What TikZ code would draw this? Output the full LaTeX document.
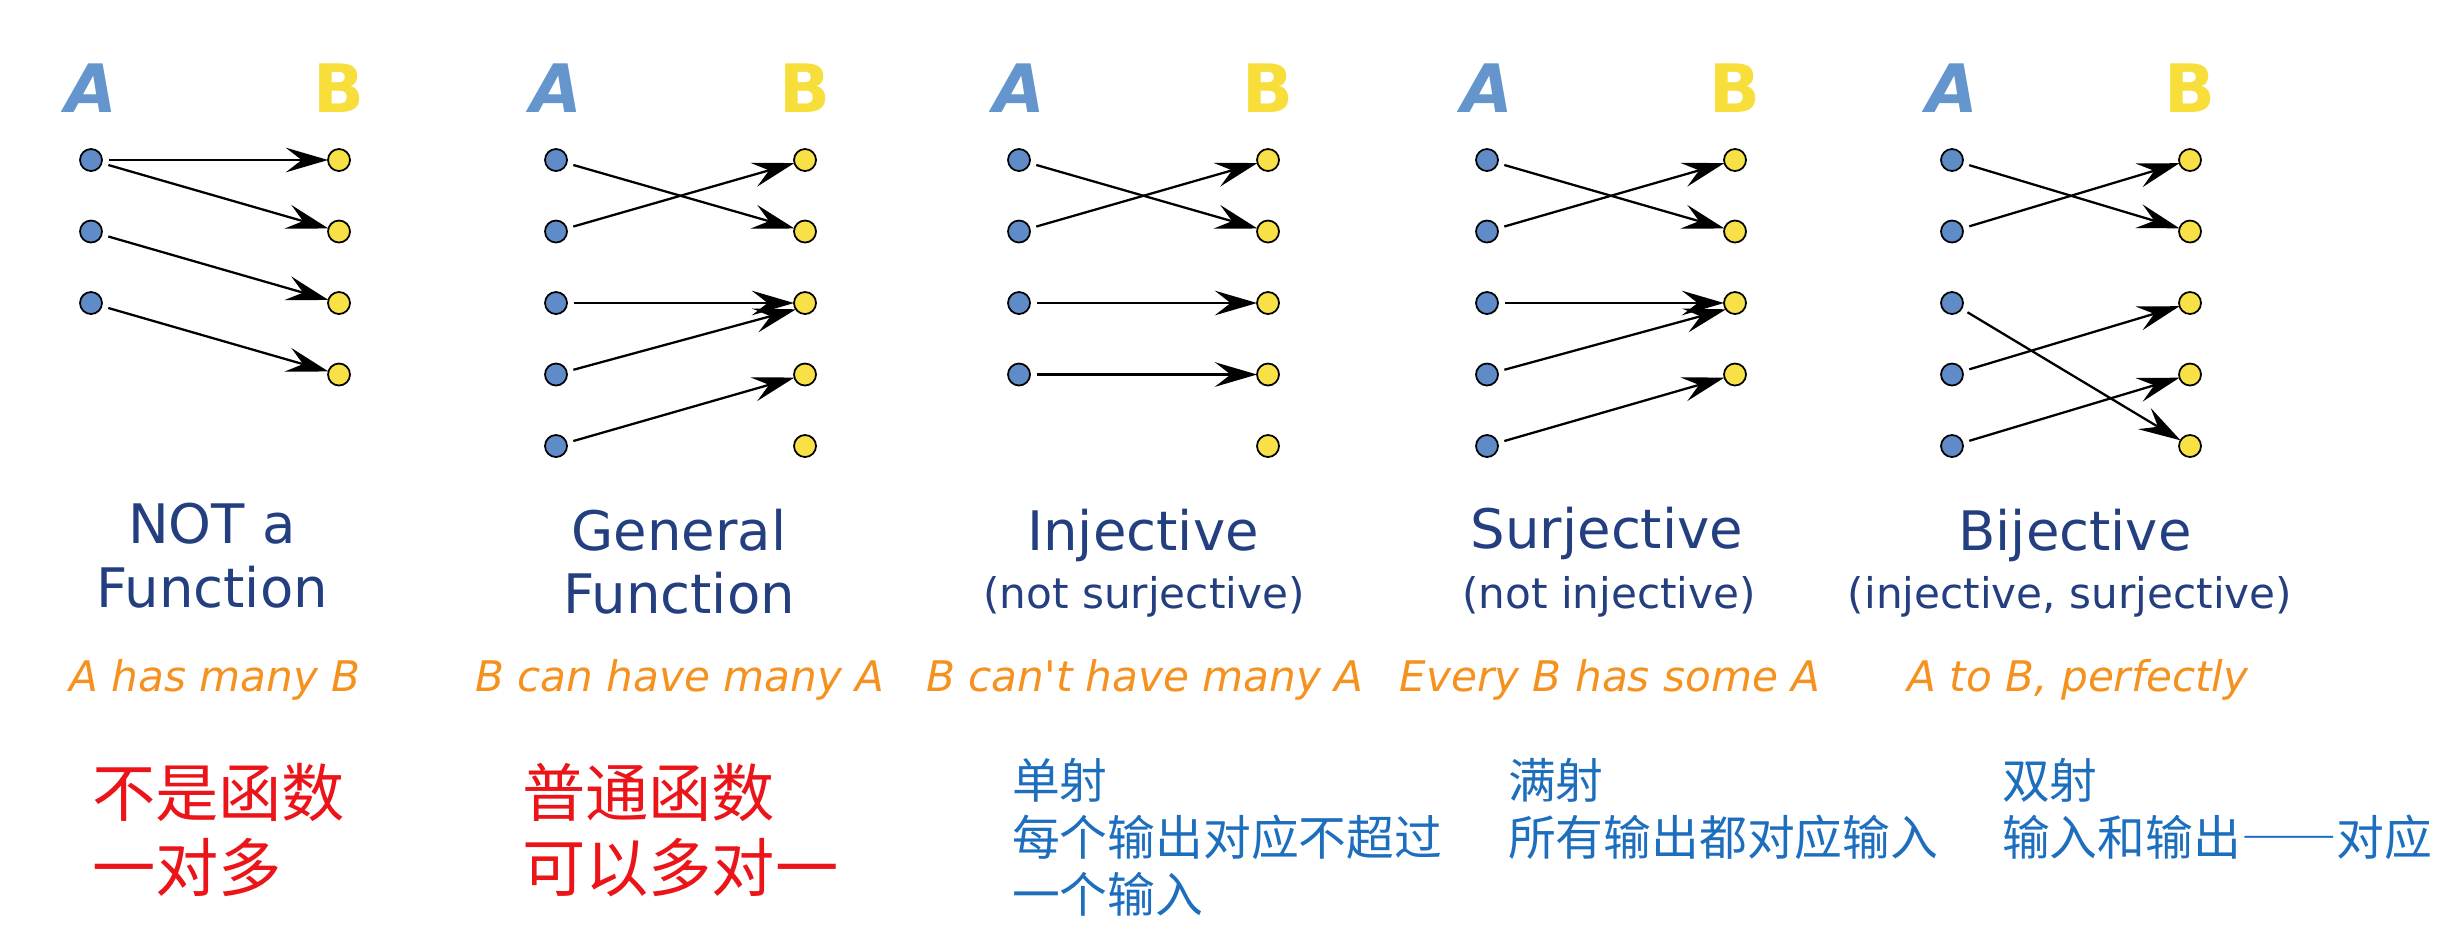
\documentclass[tikz,border=0pt]{standalone}
\usepackage{fontspec}
\setmainfont{DejaVu Sans}
\newfontfamily\cjk{Noto Sans CJK SC}
\usepackage{xcolor}
\usepackage{tikz}
\usetikzlibrary{arrows.meta,positioning}
\definecolor{seta}{HTML}{6496CD}
\definecolor{setb}{HTML}{F8DE3A}
\definecolor{dota}{HTML}{5F8CC8}
\definecolor{dotb}{HTML}{F8E146}
\definecolor{ttlblue}{HTML}{233F80}
\definecolor{hintorange}{HTML}{F5911E}
\definecolor{cnred}{HTML}{EB1419}
\definecolor{cnblue}{HTML}{1E6EBE}

\begin{document}
\begin{tikzpicture}[
        every node/.style={inner sep=0pt, outer sep=0pt},
        setlbl/.style={font=\fontsize{19}{19}\selectfont\bfseries},
        adot/.style={circle, draw=black, line width=0.5pt, fill=dota, minimum size=0.22cm},
        bdot/.style={circle, draw=black, line width=0.5pt, fill=dotb, minimum size=0.22cm},
        map/.style={-{Stealth[length=12pt, width=7pt, inset=4.5pt]}, line width=0.65pt, shorten <=0.07cm},
        ttl/.style={anchor=base, text=ttlblue, font=\fontsize{15.5}{18}\selectfont},
        subttl/.style={anchor=base, text=ttlblue, font=\fontsize{12}{14}\selectfont},
        hint/.style={anchor=base, text=hintorange, font=\fontsize{12}{14}\selectfont\itshape},
        cnbig/.style={anchor=north west, align=left, text=cnred, font=\cjk\fontsize{18}{21.3}\selectfont},
        cnsmall/.style={anchor=north west, align=left, text=cnblue, font=\cjk\fontsize{13.6}{16.3}\selectfont}
    ]
    \useasboundingbox (0,0) rectangle (24.43,-9.29);

    % =============== (1) not a function ===============
    \begin{scope}[shift={(0.91,0)}]
        \node[setlbl, text=seta] (p1A) at (0,-0.88) {\itshape A};
        \node[setlbl, text=setb] (p1B) at (2.48,-0.88) {B};
        \foreach \i in {1,...,3} \node[adot] (p1a\i) at (0,{-1.6-0.715*(\i-1)}) {};
        \foreach \i in {1,...,4} \node[bdot] (p1b\i) at (2.48,{-1.6-0.715*(\i-1)}) {};
        \draw[map] (p1a1) -- (p1b1);
        \draw[map] (p1a1) -- (p1b2);
        \draw[map] (p1a2) -- (p1b3);
        \draw[map] (p1a3) -- (p1b4);
    \end{scope}
    \node[ttl] (t1a) at (2.12,-5.43) {NOT a};
    \node[ttl] (t1b) at (2.12,-6.07) {Function};
    \node[hint] (h1) at (2.15,-6.91) {A has many B};
    \node[cnbig] (c1) at (0.92,-7.63) {不是函数\\一对多};

    % =============== (2) general function ===============
    \begin{scope}[shift={(5.56,0)}]
        \node[setlbl, text=seta] (p2A) at (0,-0.88) {\itshape A};
        \node[setlbl, text=setb] (p2B) at (2.49,-0.88) {B};
        \foreach \i in {1,...,5} \node[adot] (p2a\i) at (0,{-1.6-0.715*(\i-1)}) {};
        \foreach \i in {1,...,5} \node[bdot] (p2b\i) at (2.49,{-1.6-0.715*(\i-1)}) {};
        \draw[map] (p2a1) -- (p2b2);
        \draw[map] (p2a2) -- (p2b1);
        \draw[map] (p2a3) -- (p2b3);
        \draw[map] (p2a4) -- (p2b3.215);
        \draw[map] (p2a5) -- (p2b4);
    \end{scope}
    \node[ttl] (t2a) at (6.79,-5.50) {General};
    \node[ttl] (t2b) at (6.79,-6.13) {Function};
    \node[hint] (h2) at (6.80,-6.91) {B can have many A};
    \node[cnbig] (c2) at (5.22,-7.63) {普通函数\\可以多对一};

    % =============== (3) injective ===============
    \begin{scope}[shift={(10.19,0)}]
        \node[setlbl, text=seta] (p3A) at (0,-0.88) {\itshape A};
        \node[setlbl, text=setb] (p3B) at (2.49,-0.88) {B};
        \foreach \i in {1,...,4} \node[adot] (p3a\i) at (0,{-1.6-0.715*(\i-1)}) {};
        \foreach \i in {1,...,5} \node[bdot] (p3b\i) at (2.49,{-1.6-0.715*(\i-1)}) {};
        \draw[map] (p3a1) -- (p3b2);
        \draw[map] (p3a2) -- (p3b1);
        \draw[map] (p3a3) -- (p3b3);
        \draw[map] (p3a4) -- (p3b4);
    \end{scope}
    \node[ttl] (t3a) at (11.43,-5.50) {Injective};
    \node[subttl] (t3b) at (11.44,-6.08) {(not surjective)};
    \node[hint] (h3) at (11.45,-6.91) {B can\textquotesingle t have many A};
    \node[cnsmall] (c3) at (10.12,-7.58) {单射\\每个输出对应不超过\\一个输入};

    % =============== (4) surjective ===============
    \begin{scope}[shift={(14.87,0)}]
        \node[setlbl, text=seta] (p4A) at (0,-0.88) {\itshape A};
        \node[setlbl, text=setb] (p4B) at (2.48,-0.88) {B};
        \foreach \i in {1,...,5} \node[adot] (p4a\i) at (0,{-1.6-0.715*(\i-1)}) {};
        \foreach \i in {1,...,4} \node[bdot] (p4b\i) at (2.48,{-1.6-0.715*(\i-1)}) {};
        \draw[map] (p4a1) -- (p4b2);
        \draw[map] (p4a2) -- (p4b1);
        \draw[map] (p4a3) -- (p4b3);
        \draw[map] (p4a4) -- (p4b3.215);
        \draw[map] (p4a5) -- (p4b4);
    \end{scope}
    \node[ttl] (t4a) at (16.07,-5.48) {Surjective};
    \node[subttl] (t4b) at (16.09,-6.08) {(not injective)};
    \node[hint] (h4) at (16.10,-6.91) {Every B has some A};
    \node[cnsmall] (c4) at (15.08,-7.58) {满射\\所有输出都对应输入};

    % =============== (5) bijective ===============
    \begin{scope}[shift={(19.52,0)}]
        \node[setlbl, text=seta] (p5A) at (0,-0.88) {\itshape A};
        \node[setlbl, text=setb] (p5B) at (2.38,-0.88) {B};
        \foreach \i in {1,...,5} \node[adot] (p5a\i) at (0,{-1.6-0.715*(\i-1)}) {};
        \foreach \i in {1,...,5} \node[bdot] (p5b\i) at (2.38,{-1.6-0.715*(\i-1)}) {};
        \draw[map] (p5a1) -- (p5b2);
        \draw[map] (p5a2) -- (p5b1);
        \draw[map] (p5a3) -- (p5b5);
        \draw[map] (p5a4) -- (p5b3);
        \draw[map] (p5a5) -- (p5b4);
    \end{scope}
    \node[ttl] (t5a) at (20.75,-5.50) {Bijective};
    \node[subttl] (t5b) at (20.70,-6.08) {(injective, surjective)};
    \node[hint] (h5) at (20.78,-6.91) {A to B, perfectly};
    \node[cnsmall] (c5) at (20.02,-7.58) {双射\\输入和输出{\addfontfeature{RawFeature=+fwid}——}对应};
\end{tikzpicture}
\end{document}
